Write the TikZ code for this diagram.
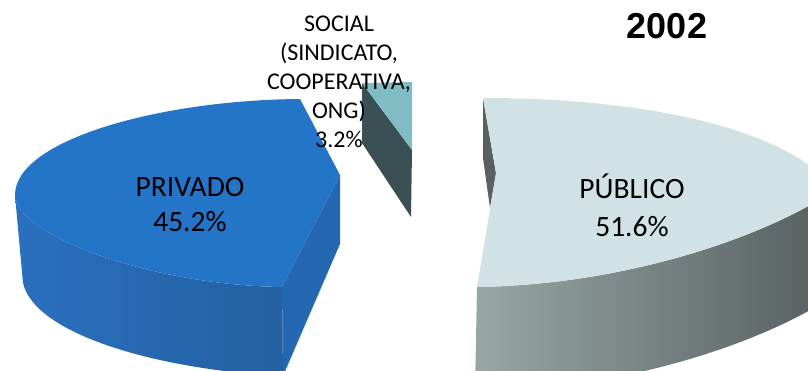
\documentclass[tikz,border=0pt]{standalone}
\usepackage{fontspec}
\setmainfont{Carlito}
\newfontfamily\yearfont{Liberation Sans}
\usetikzlibrary{shadings}

\definecolor{privtop}{RGB}{36,116,200}
\definecolor{privcut}{RGB}{36,104,178}
\definecolor{privsideL}{RGB}{42,112,190}
\definecolor{privsideR}{RGB}{36,96,162}
\definecolor{soctop}{RGB}{128,188,196}
\definecolor{soccut}{RGB}{58,80,85}
\definecolor{pubtop}{RGB}{208,226,229}
\definecolor{pubcut}{RGB}{88,96,98}
\definecolor{pubsideL}{RGB}{152,166,166}
\definecolor{pubsideR}{RGB}{86,94,94}

\begin{document}
\begin{tikzpicture}[x=1pt,y=-1pt,
    slicelabel/.style={align=center,anchor=base,inner sep=0pt,
      font=\fontsize{29.5}{35}\selectfont},
    smalllabel/.style={align=center,anchor=base,inner sep=0pt,
      font=\fontsize{24}{29}\selectfont}]
    \useasboundingbox (0,0) rectangle (808,370);
    \clip (0,0) rectangle (808,370);
    % social slice (back)
    \fill[soccut] (362,83) -- (412,150) -- (411,217) -- (362,143) -- cycle;
    \fill[soctop] (362,83) -- (412,82) -- (412,150) -- cycle;
    % privado slice
    \shade[left color=privsideL,right color=privsideR]
      (15,195) .. controls (15,235) and (150,285) .. (282,287)
      -- (283,376) .. controls (160,370) and (35,335) .. (23,283) -- cycle;
    \fill[privcut] (340,175) -- (282,287) -- (283,376) -- (340,244) -- cycle;
    \fill[privtop] (340,175) -- (300,99) .. controls (160,100) and (15,140) .. (15,195)
      .. controls (15,235) and (150,285) .. (282,287) -- cycle;
    % publico slice
    \fill[pubcut] (483,98) -- (496,173) -- (490,208) -- (483,158) -- cycle;
    \shade[left color=pubsideL,right color=pubsideR]
      (477,287) .. controls (620,285) and (760,240) .. (835,190)
      -- (835,295) .. controls (760,345) and (620,390) .. (475,392) -- cycle;
    \fill[pubtop] (483,98) -- (496,173) -- (477,287)
      .. controls (620,285) and (760,240) .. (835,190)
      .. controls (790,130) and (650,98) .. (483,98) -- cycle;
    % labels
    \node[smalllabel] (social) at (339,147)
      {SOCIAL\\(SINDICATO,\\COOPERATIVA,\\ONG)\\3.2\%};
    \node[slicelabel] (privado) at (190,231.7) {PRIVADO\\45.2\%};
    \node[slicelabel] (publico) at (632,236.7) {PÚBLICO\\[3pt]51.6\%};
    \node[anchor=base,inner sep=0pt,font=\yearfont\bfseries\fontsize{36}{40}\selectfont]
      (year) at (667,38) {2002};
\end{tikzpicture}
\end{document}
